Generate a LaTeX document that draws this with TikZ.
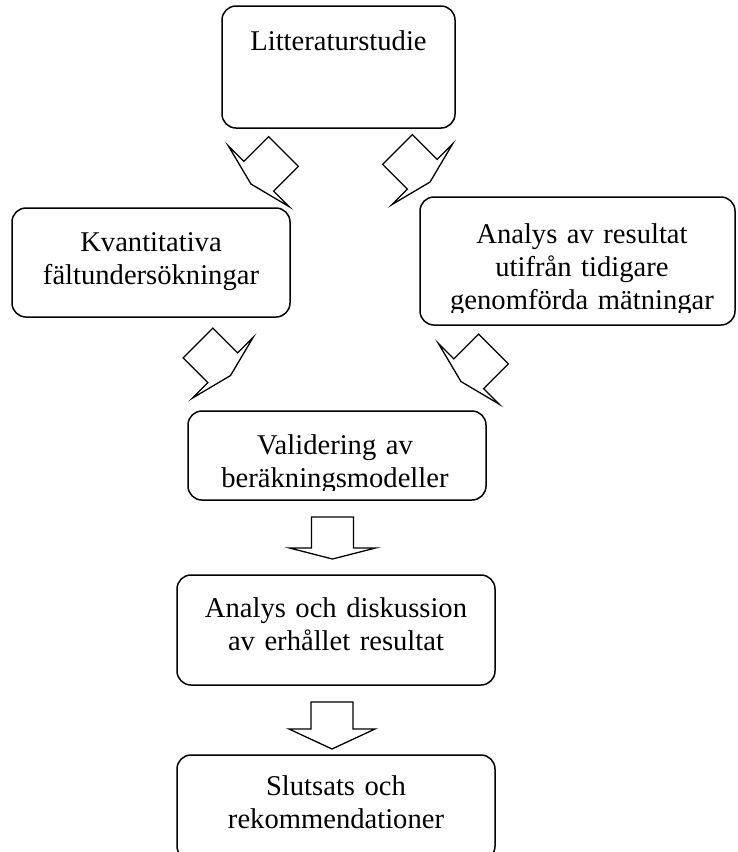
\documentclass[tikz,border=0pt]{standalone}
\usepackage{fontspec}
\setmainfont{Liberation Serif}
\begin{document}
\begin{tikzpicture}[x=1pt,y=-1pt,
  box/.style={draw, line width=1.5pt, rounded corners=14pt, inner sep=0pt},
  txt/.style={anchor=base, text width=320pt, align=center, inner sep=0pt, font=\fontsize{28.6}{33}\selectfont},
  pics/blockarrow/.style 2 args={code={
    \draw[line width=1.3pt, line join=miter] (-21,0) -- (21,0) -- (21,#1) -- (43,#1) -- (0,#1+#2) -- (-43,#1) -- (-21,#1) -- cycle;}}]
\useasboundingbox (0,0) rectangle (737,852);
% boxes
\node[box, minimum width=233pt, minimum height=122pt] (lit) at (338.5,67) {};
\node[box, minimum width=278pt, minimum height=109pt] (kvant) at (151,262.5) {};
\node[box, minimum width=315pt, minimum height=128pt] (anres) at (577.5,261) {};
\node[box, minimum width=298pt, minimum height=89pt] (valid) at (337,455.5) {};
\node[box, minimum width=318pt, minimum height=110pt] (andisk) at (336,630) {};
\node[box, minimum width=318pt, minimum height=105pt] (slut) at (336,807.5) {};
% texts
\node[txt] (tlit) at (338.5,50) {Litteraturstudie};
\node[txt] (tkvant) at (151,251) {Kvantitativa\\fältundersökningar};
\begin{scope}
  \clip (420,197) rectangle (735,312);
  \node[txt] (tanres) at (582,243) {Analys av resultat\\utifrån tidigare\\genomförda mätningar};
\end{scope}
\begin{scope}
  \clip (188,411) rectangle (486,490);
  \node[txt] (tvalid) at (335,454) {Validering av\\beräkningsmodeller};
\end{scope}
\node[txt] (tandisk) at (336,617) {Analys och diskussion\\av erhållet resultat};
\node[txt] (tslut) at (336,795) {Slutsats och\\rekommendationer};
% block arrows
\pic (a1) [rotate=-45] at (283.5,151.5) {blockarrow={35}{11}};
\pic (a2) [rotate=45] at (397.5,149.5) {blockarrow={35}{11}};
\pic (a3) [rotate=45] at (198,343) {blockarrow={35}{11}};
\pic (a4) [rotate=-45] at (493.5,349) {blockarrow={35}{11}};
\pic (a5) at (332.5,517) {blockarrow={31}{11}};
\pic (a6) at (332,702) {blockarrow={27}{20}};
\end{tikzpicture}
\end{document}
